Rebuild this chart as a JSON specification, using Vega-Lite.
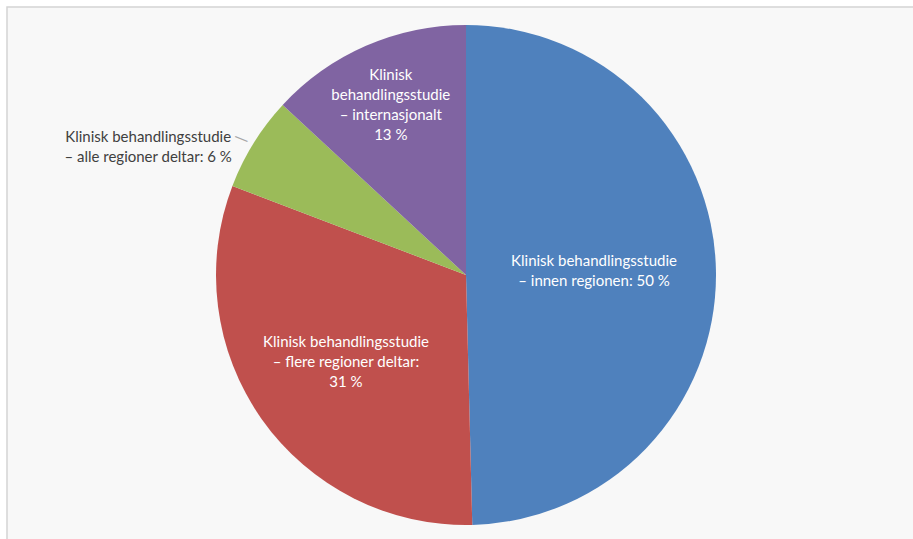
{
  "$schema": "https://vega.github.io/schema/vega-lite/v6.json",
  "width": 918,
  "height": 536,
  "autosize": {"type": "none"},
  "padding": {"left": 7, "top": 7, "right": -12, "bottom": -4},
  "background": "#ffffff",
  "view": {"fill": "#f8f8f8", "stroke": "#d4d4d4", "strokeWidth": 1.5},
  "config": {
    "view": {"fill": "#f8f8f8", "stroke": "#d4d4d4", "strokeWidth": 1.5},
    "text": {"font": "Lato", "fontSize": 15, "lineBreak": "\n", "lineHeight": 20}
  },
  "data": {
    "values": [
      {"cat": "innen regionen", "rank": 1, "value": 49.6, "label": "Klinisk behandlingsstudie\n– innen regionen: 50 %"},
      {"cat": "flere regioner deltar", "rank": 2, "value": 31.2, "label": "Klinisk behandlingsstudie\n– flere regioner deltar:\n31 %"},
      {"cat": "alle regioner deltar", "rank": 3, "value": 6.1, "label": "Klinisk behandlingsstudie\n– alle regioner deltar: 6 %"},
      {"cat": "internasjonalt", "rank": 4, "value": 13.1, "label": "Klinisk\nbehandlingsstudie\n– internasjonalt\n13 %"}
    ]
  },
  "encoding": {
    "theta": {"field": "value", "type": "quantitative", "stack": true},
    "order": {"field": "rank", "type": "quantitative"}
  },
  "layer": [
    {
      "mark": {"type": "arc", "radius": 250},
      "encoding": {
        "color": {
          "field": "cat",
          "type": "nominal",
          "scale": {
            "domain": ["innen regionen", "flere regioner deltar", "alle regioner deltar", "internasjonalt"],
            "range": ["#4F81BD", "#C0504D", "#9BBB59", "#8064A2"]
          },
          "legend": null
        }
      }
    },
    {
      "mark": {"type": "text", "radius": 128, "color": "#ffffff", "align": "center", "baseline": "middle", "dy": -12},
      "encoding": {"text": {"condition": {"test": "datum.cat === 'innen regionen'", "field": "label"}, "value": ""}}
    },
    {
      "mark": {"type": "text", "radius": 147, "color": "#ffffff", "align": "center", "baseline": "middle", "dy": -18},
      "encoding": {"text": {"condition": {"test": "datum.cat === 'flere regioner deltar'", "field": "label"}, "value": ""}}
    },
    {
      "mark": {"type": "text", "radius": 188, "color": "#ffffff", "align": "center", "baseline": "middle", "dy": -28},
      "encoding": {"text": {"condition": {"test": "datum.cat === 'internasjonalt'", "field": "label"}, "value": ""}}
    },
    {
      "mark": {"type": "text", "radius": 273, "color": "#404040", "align": "center", "baseline": "middle", "dx": -86, "dy": 6},
      "encoding": {"text": {"condition": {"test": "datum.cat === 'alle regioner deltar'", "field": "label"}, "value": ""}}
    },
    {
      "mark": {"type": "text", "radius": 257, "color": "#a6a6a6", "align": "center", "baseline": "middle", "angle": 22, "dx": -6, "dy": 2, "fontSize": 20},
      "encoding": {"text": {"condition": {"test": "datum.cat === 'alle regioner deltar'", "value": "—"}, "value": ""}}
    }
  ]
}
